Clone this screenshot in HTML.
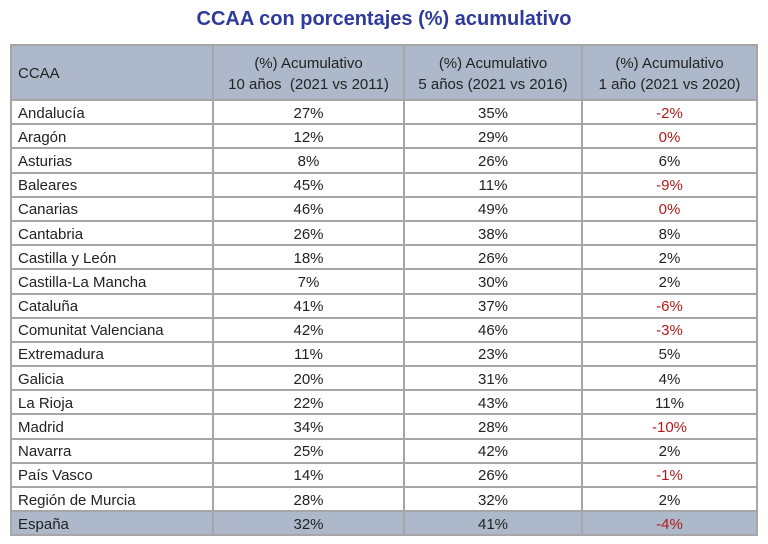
<!DOCTYPE html>
<html><head><meta charset="utf-8"><style>
body{margin:0;width:768px;height:544px;background:#fff;font-family:"Liberation Sans","DejaVu Sans",sans-serif;position:relative;overflow:hidden}
.t{position:absolute;top:8px;left:0;width:768px;text-align:center;font-weight:bold;font-size:20px;color:#2e3a9c}
table{position:absolute;left:10px;top:44px;border-collapse:collapse;width:746px;font-size:15px;color:#222;table-layout:fixed}
td{border:2px solid #a6a6a6;height:19.2px;padding:3px 6px 0 6px;text-align:center;line-height:16px}
td:first-child{text-align:left}
tr.h td{background:#adb9ca;height:51px;padding-top:2px;line-height:21px}
tr.f td{background:#adb9ca}
.r{color:#b01a1a}
</style></head><body>
<div class="t">CCAA con porcentajes (%) acumulativo</div>
<table>
<colgroup><col style="width:202px"><col style="width:191px"><col style="width:178px"><col style="width:175px"></colgroup>
<tr class="h"><td>CCAA</td><td>(%) Acumulativo<br>10 años&nbsp; (2021 vs 2011)</td><td>(%) Acumulativo<br>5 años (2021 vs 2016)</td><td>(%) Acumulativo<br>1 año (2021 vs 2020)</td></tr>
<tr><td>Andalucía</td><td>27%</td><td>35%</td><td class="r">-2%</td></tr>
<tr><td>Aragón</td><td>12%</td><td>29%</td><td class="r">0%</td></tr>
<tr><td>Asturias</td><td>8%</td><td>26%</td><td>6%</td></tr>
<tr><td>Baleares</td><td>45%</td><td>11%</td><td class="r">-9%</td></tr>
<tr><td>Canarias</td><td>46%</td><td>49%</td><td class="r">0%</td></tr>
<tr><td>Cantabria</td><td>26%</td><td>38%</td><td>8%</td></tr>
<tr><td>Castilla y León</td><td>18%</td><td>26%</td><td>2%</td></tr>
<tr><td>Castilla-La Mancha</td><td>7%</td><td>30%</td><td>2%</td></tr>
<tr><td>Cataluña</td><td>41%</td><td>37%</td><td class="r">-6%</td></tr>
<tr><td>Comunitat Valenciana</td><td>42%</td><td>46%</td><td class="r">-3%</td></tr>
<tr><td>Extremadura</td><td>11%</td><td>23%</td><td>5%</td></tr>
<tr><td>Galicia</td><td>20%</td><td>31%</td><td>4%</td></tr>
<tr><td>La Rioja</td><td>22%</td><td>43%</td><td>11%</td></tr>
<tr><td>Madrid</td><td>34%</td><td>28%</td><td class="r">-10%</td></tr>
<tr><td>Navarra</td><td>25%</td><td>42%</td><td>2%</td></tr>
<tr><td>País Vasco</td><td>14%</td><td>26%</td><td class="r">-1%</td></tr>
<tr><td>Región de Murcia</td><td>28%</td><td>32%</td><td>2%</td></tr>
<tr class="f"><td>España</td><td>32%</td><td>41%</td><td class="r">-4%</td></tr>
</table>
</body></html>
